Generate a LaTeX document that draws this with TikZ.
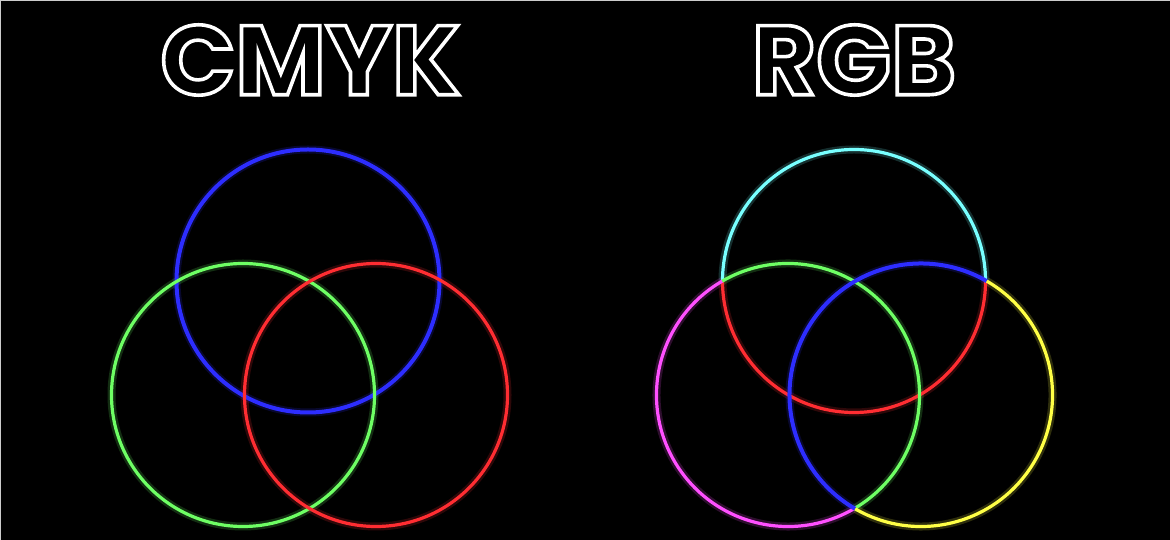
\documentclass[tikz,border=0pt]{standalone}
\usepackage{fontspec}
\newfontfamily\titlefont{Poppins}
\definecolor{cblue}{RGB}{45,45,255}
\definecolor{cred}{RGB}{255,45,50}
\definecolor{cgreen}{RGB}{110,255,100}
\definecolor{ccyan}{RGB}{120,255,255}
\definecolor{cmag}{RGB}{255,80,255}
\definecolor{cyel}{RGB}{255,255,70}
\newcommand{\outlinetext}[1]{\special{pdf:literal direct 1 1 1 RG 3.6 w 2 Tr}#1\special{pdf:literal direct 0 Tr}}
\tikzset{
  ring/.style={line width=3.2pt},
  glow/.style={line width=8pt, opacity=0.18},
  titlestyle/.style={text=black, inner sep=0pt, font=\titlefont\bfseries\fontsize{98.5}{98.5}\selectfont},
}
\begin{document}
\begin{tikzpicture}[x=1pt,y=1pt]
\useasboundingbox (0,0) rectangle (1170,540);
\fill[black] (0,0) rectangle (1170,540);
\draw[gray!40, line width=1pt] (0.5,0) -- (0.5,539.5) -- (1170,539.5);
% titles
\node[titlestyle] (cmyk) at (310.5,480) {\outlinetext{CMYK}};
\node[titlestyle] (rgb) at (854,480) {\outlinetext{RGB}};
% CMYK circles
\coordinate (cb) at (308,259);
\coordinate (cg) at (243,145);
\coordinate (cr) at (376,145);
\foreach \c/\col in {cb/cblue,cg/cgreen,cr/cred}{
  \draw[glow,\col] (\c) circle (131.5);
}
\draw[ring,cblue, line width=4pt] (cb) circle (131.5);
\draw[ring,cgreen] (cg) circle (131.5);
\draw[ring,cred] (cr) circle (131.5);
% RGB circles
\coordinate (rt) at (854,259);
\coordinate (rl) at (788,145);
\coordinate (rr) at (921,145);
\draw[glow,ccyan] (rt) ++(0:131.5) arc[start angle=0,end angle=180,radius=131.5];
\draw[glow,cred] (rt) ++(180:131.5) arc[start angle=180,end angle=360,radius=131.5];
\draw[glow,cmag] (rl) ++(120:131.5) arc[start angle=120,end angle=300,radius=131.5];
\draw[glow,cgreen] (rl) ++(-60:131.5) arc[start angle=-60,end angle=120,radius=131.5];
\draw[glow,cblue] (rr) ++(60:131.5) arc[start angle=60,end angle=240,radius=131.5];
\draw[glow,cyel] (rr) ++(240:131.5) arc[start angle=240,end angle=420,radius=131.5];
\draw[ring,ccyan] (rt) ++(0:131.5) arc[start angle=0,end angle=180,radius=131.5];
\draw[ring,cred] (rt) ++(180:131.5) arc[start angle=180,end angle=360,radius=131.5];
\draw[ring,cmag] (rl) ++(120:131.5) arc[start angle=120,end angle=300,radius=131.5];
\draw[ring,cgreen] (rl) ++(-60:131.5) arc[start angle=-60,end angle=120,radius=131.5];
\draw[ring,cblue,line width=4pt] (rr) ++(60:131.5) arc[start angle=60,end angle=240,radius=131.5];
\draw[ring,cyel] (rr) ++(240:131.5) arc[start angle=240,end angle=420,radius=131.5];
\end{tikzpicture}
\end{document}
